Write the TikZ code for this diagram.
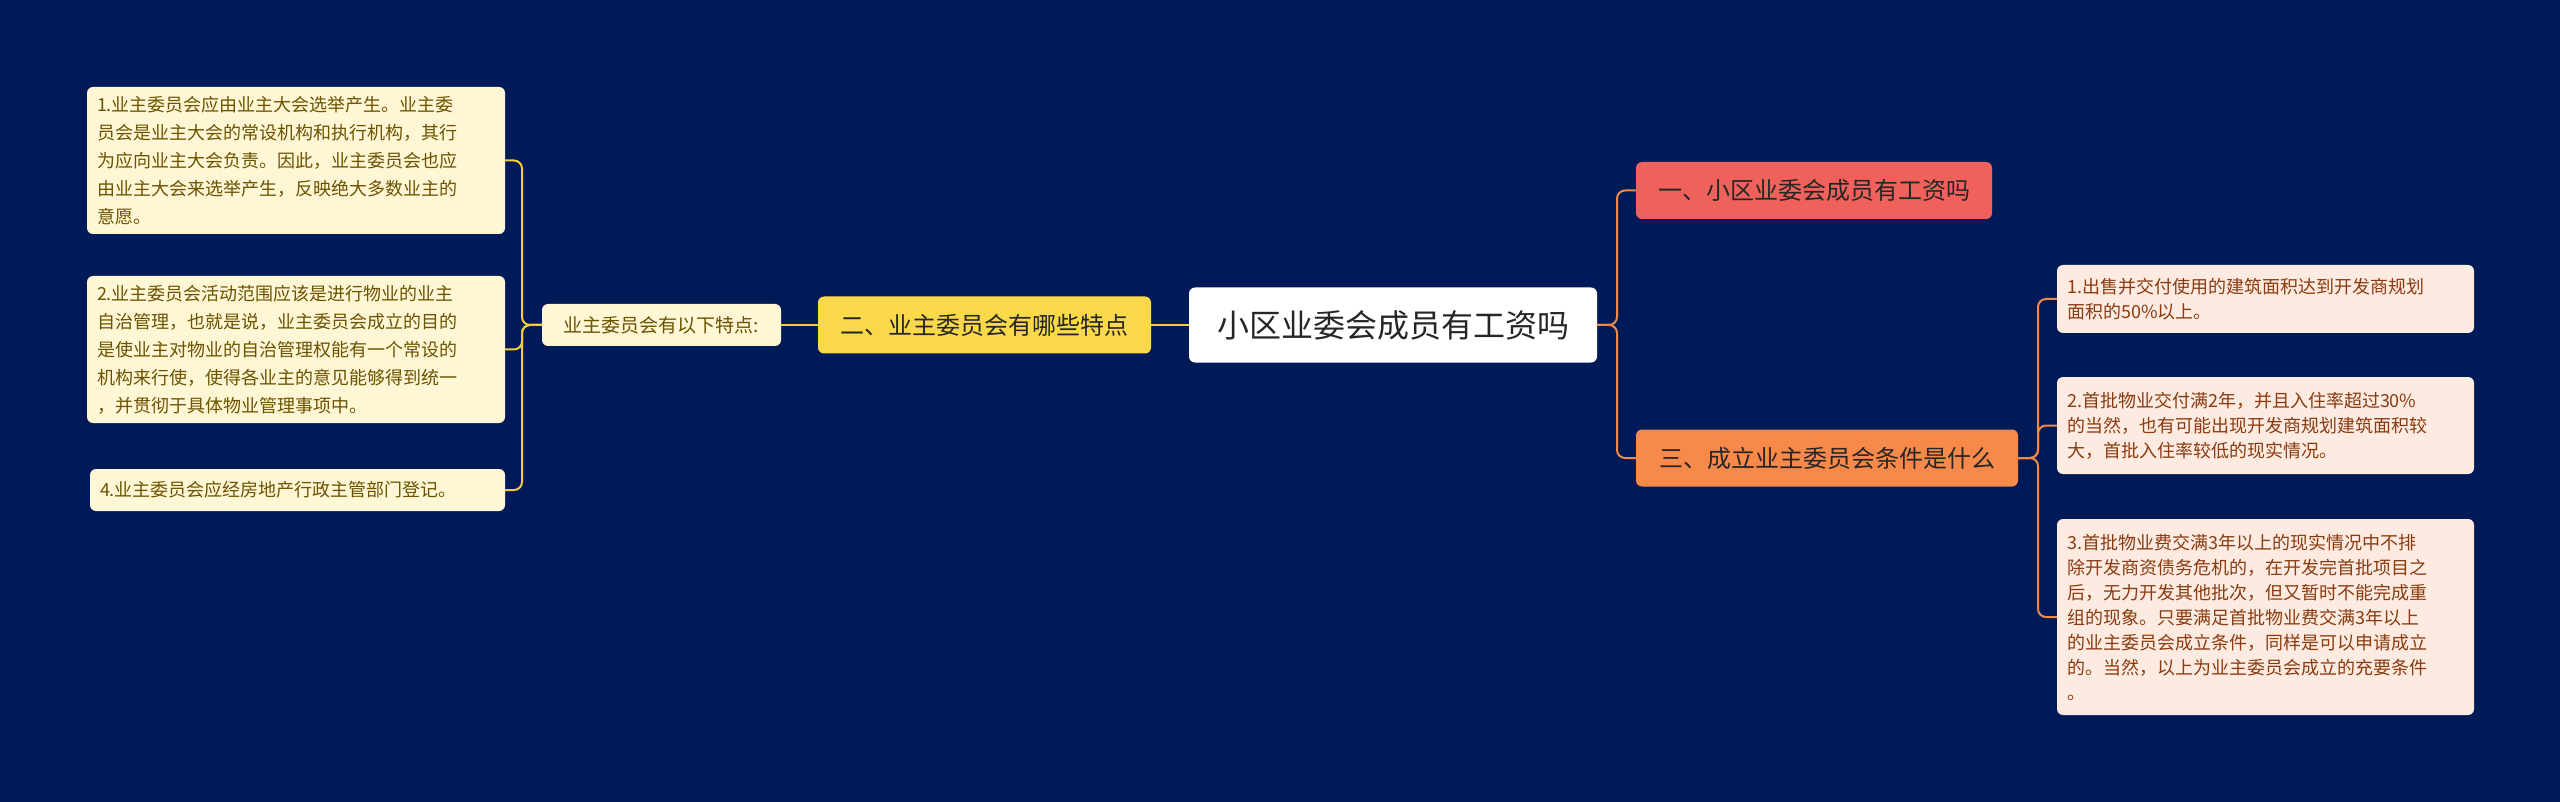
\documentclass[tikz,border=0pt]{standalone}
\usepackage{fontspec}
\setmainfont{Noto Sans CJK SC}
\begin{document}
\begin{tikzpicture}[x=1pt,y=-1pt,
  bx/.style={rounded corners=6pt,inner sep=0pt,align=left},
  lbox/.style={bx,fill=lfill,text=ltext,font=\fontsize{18}{28}\selectfont},
  rbox/.style={bx,fill=rfill,text=rtext,font=\fontsize{18}{25}\selectfont},
  lcon/.style={draw=lline,line width=2pt,rounded corners=8pt},
  rcon/.style={draw=rline,line width=2pt,rounded corners=8pt}]
\definecolor{bg}{HTML}{001A57}
\definecolor{lfill}{HTML}{FFF6D5}
\definecolor{ltext}{HTML}{6B5300}
\definecolor{lline}{HTML}{F2CC3A}
\definecolor{rfill}{HTML}{FDEAE0}
\definecolor{rtext}{HTML}{8A3B10}
\definecolor{rline}{HTML}{F08A4B}
\definecolor{redb}{HTML}{F0615C}
\definecolor{orb}{HTML}{F7894A}
\definecolor{yelb}{HTML}{F9D94A}
\fill[bg] (0,0) rectangle (2560,802);
\useasboundingbox (0,0) rectangle (2560,802);
% center
\node[bx,fill=white,text=black!85,minimum width=408pt,minimum height=75pt,align=center,font=\fontsize{32}{36}\selectfont] (c) at (1393,325) {小区业委会成员有工资吗};
% left branch
\node[bx,fill=yelb,text=black!85,minimum width=333pt,minimum height=57pt,align=center,font=\fontsize{24}{28}\selectfont] (y) at (984.5,325) {二、业主委员会有哪些特点};
\node[bx,fill=lfill,text=ltext,minimum width=239pt,minimum height=42pt,align=center,font=\fontsize{19}{22}\selectfont] (s) at (661.5,325) {业主委员会有以下特点:};
\node[lbox,minimum width=418pt,minimum height=147pt,text width=398pt] (l1) at (296,160.5) {1.业主委员会应由业主大会选举产生。业主委\\员会是业主大会的常设机构和执行机构，其行\\为应向业主大会负责。因此，业主委员会也应\\由业主大会来选举产生，反映绝大多数业主的\\意愿。};
\node[lbox,minimum width=418pt,minimum height=147pt,text width=398pt] (l2) at (296,349.5) {2.业主委员会活动范围应该是进行物业的业主\\自治管理，也就是说，业主委员会成立的目的\\是使业主对物业的自治管理权能有一个常设的\\机构来行使，使得各业主的意见能够得到统一\\，并贯彻于具体物业管理事项中。};
\node[lbox,minimum width=415pt,minimum height=42pt,text width=395pt] (l4) at (297.5,490) {4.业主委员会应经房地产行政主管部门登记。};
\draw[lcon] (c.west) -- (y.east);
\draw[lcon] (y.west) -- (s.east);
\draw[lcon] (s.west) -- (522,325) |- (l1.east);
\draw[lcon] (s.west) -- (522,325) |- (l2.east);
\draw[lcon] (s.west) -- (522,325) |- (l4.east);
% right branch
\node[bx,fill=redb,text=black!85,minimum width=356pt,minimum height=57pt,align=center,font=\fontsize{24}{28}\selectfont] (r1) at (1814,190.5) {一、小区业委会成员有工资吗};
\node[bx,fill=orb,text=black!85,minimum width=382pt,minimum height=57pt,align=center,font=\fontsize{24}{28}\selectfont] (r3) at (1827,458) {三、成立业主委员会条件是什么};
\node[rbox,minimum width=417pt,minimum height=68pt,text width=397pt] (b1) at (2265.5,299) {1.出售并交付使用的建筑面积达到开发商规划\\面积的50\%以上。};
\node[rbox,minimum width=417pt,minimum height=97pt,text width=397pt] (b2) at (2265.5,425.5) {2.首批物业交付满2年，并且入住率超过30\%\\的当然，也有可能出现开发商规划建筑面积较\\大，首批入住率较低的现实情况。};
\node[rbox,minimum width=417pt,minimum height=196pt,text width=397pt] (b3) at (2265.5,617) {3.首批物业费交满3年以上的现实情况中不排\\除开发商资债务危机的，在开发完首批项目之\\后，无力开发其他批次，但又暂时不能完成重\\组的现象。只要满足首批物业费交满3年以上\\的业主委员会成立条件，同样是可以申请成立\\的。当然，以上为业主委员会成立的充要条件\\。};
\draw[rcon] (c.east) -- (1617,325) |- (r1.west);
\draw[rcon] (c.east) -- (1617,325) |- (r3.west);
\draw[rcon] (r3.east) -- (2038,458) |- (b1.west);
\draw[rcon] (r3.east) -- (2038,458) |- (b2.west);
\draw[rcon] (r3.east) -- (2038,458) |- (b3.west);
\end{tikzpicture}
\end{document}
